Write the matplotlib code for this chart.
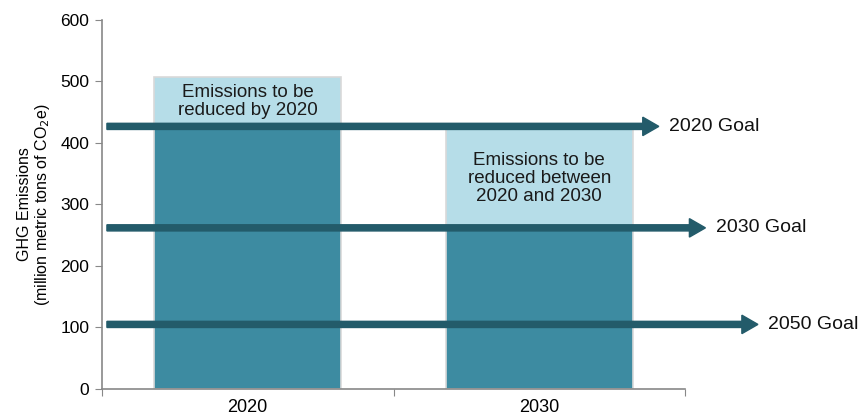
import numpy as np
import matplotlib
matplotlib.use("Agg")
import matplotlib.pyplot as plt

plt.rcParams['font.family'] = ['Liberation Sans', 'DejaVu Sans']

years = ['2020', '2030']
goal_level = [427, 262]          # dark part of each bar
current_level = [507, 427]       # full bar height
bar_notes = ['Emissions to be\nreduced by 2020',
             'Emissions to be\nreduced between\n2020 and 2030']
goal_labels = ['2020 Goal', '2030 Goal', '2050 Goal']
goal_values = [427, 262, 105]

dark = '#3d8ba1'
light = '#b6dde8'
arrow_col = '#235b6a'

fig = plt.figure(figsize=(8.62, 4.15), dpi=100)
ax = fig.add_axes([0.1183, 0.0627, 0.6764, 0.8891])

x = np.arange(len(years))
reduce = np.array(current_level) - np.array(goal_level)
ax.bar(x, goal_level, width=0.64, color=dark, edgecolor='#d9d9d9', linewidth=1.2, zorder=2)
ax.bar(x, reduce, bottom=goal_level, width=0.64, color=light, edgecolor='#d9d9d9', linewidth=1.2, zorder=2)

# notes inside the light part of each bar
note_y = [468, 342]
for xi, note, ny in zip(x, bar_notes, note_y):
    ax.text(xi, ny, note, ha='center', va='center', fontsize=13.5, color='#1a1a1a',
            linespacing=1.1, zorder=4)

# goal arrows running past the plot area
arrow_start = -0.483
arrow_ends = [1.41, 1.57, 1.75]
for lab, gv, xe in zip(goal_labels, goal_values, arrow_ends):
    ax.arrow(arrow_start, gv, xe - arrow_start, 0, width=10, head_width=30,
             head_length=0.055, length_includes_head=True, color=arrow_col,
             clip_on=False, zorder=3)
    ax.text(xe + 0.035, gv, lab, ha='left', va='center', fontsize=14, color='#111111')

ax.set_xlim(-0.5, 1.5)
ax.set_ylim(0, 600)
ax.set_yticks(range(0, 601, 100))
ax.set_xticks([-0.5, 0.5, 1.5], minor=False)
ax.set_xticklabels(['', '', ''])
ax.set_xticks(x, minor=True)
ax.set_xticklabels(years, minor=True)
ax.tick_params(axis='x', which='minor', length=0, labelsize=13, pad=7)
ax.tick_params(axis='x', which='major', length=5, color='#888888')
ax.tick_params(axis='y', length=5, color='#888888', labelsize=12.5, pad=4)

ax.set_ylabel('GHG Emissions\n(million metric tons of CO$_2$e)', fontsize=11.5,
              labelpad=6, linespacing=1.1)

for s in ['top', 'right']:
    ax.spines[s].set_visible(False)
for s in ['left', 'bottom']:
    ax.spines[s].set_color('#888888')
    ax.spines[s].set_linewidth(1.2)

fig.savefig('out.png', dpi=100)
